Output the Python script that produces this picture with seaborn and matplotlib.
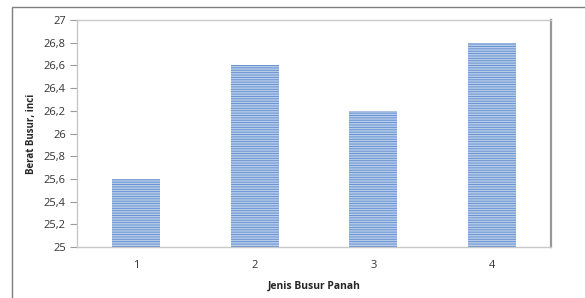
import matplotlib
matplotlib.use("Agg")
import matplotlib.pyplot as plt
import seaborn as sns
import pandas as pd
from matplotlib.patches import Rectangle
from matplotlib.ticker import FuncFormatter

# data
categories = ["1", "2", "3", "4"]
berat = [25.6, 26.6, 26.2, 26.8]
y_ticks = [25, 25.2, 25.4, 25.6, 25.8, 26, 26.2, 26.4, 26.6, 26.8, 27]

df = pd.DataFrame({"jenis": categories, "berat": berat})

sns.set_style("white")
plt.rcParams["font.family"] = ["Open Sans", "DejaVu Sans"]
plt.rcParams["hatch.linewidth"] = 0.6

fig = plt.figure(figsize=(5.85, 2.98), dpi=100)
ax = fig.add_axes([77 / 585, 51 / 298, 474 / 585, 227 / 298])

sns.barplot(data=df, x="jenis", y="berat", color="#b6cbe8", width=0.405,
            ax=ax, saturation=1)
for bar in ax.patches:
    bar.set_hatch("-" * 7)
    bar.set_edgecolor("#5d8ccf")
    bar.set_linewidth(0)

ax.set_ylim(25, 27)
ax.set_yticks(y_ticks)
ax.yaxis.set_major_formatter(FuncFormatter(lambda v, p: f"{v:g}".replace(".", ",")))
ax.tick_params(axis="y", length=5, width=0.8, color="#999999", labelsize=8,
               labelcolor="#333333", pad=3, left=True)
ax.tick_params(axis="x", length=0, labelsize=8, labelcolor="#333333", pad=9)

ax.set_xlabel("Jenis Busur Panah", fontsize=7.5, fontweight="bold", labelpad=7)
ax.set_ylabel("Berat Busur, inci", fontsize=7, fontweight="bold", labelpad=5)

for side in ["top", "left", "bottom"]:
    ax.spines[side].set_color("#c8c8c8")
    ax.spines[side].set_linewidth(1)
ax.spines["right"].set_color("#999999")
ax.spines["right"].set_linewidth(1.6)

# outer chart border
fig.patches.append(Rectangle((12 / 585, -0.05), 1.2, (291 / 298) + 0.05,
                             transform=fig.transFigure, fill=False,
                             edgecolor="#7f7f7f", linewidth=1))

fig.savefig("out.png", dpi=100)
